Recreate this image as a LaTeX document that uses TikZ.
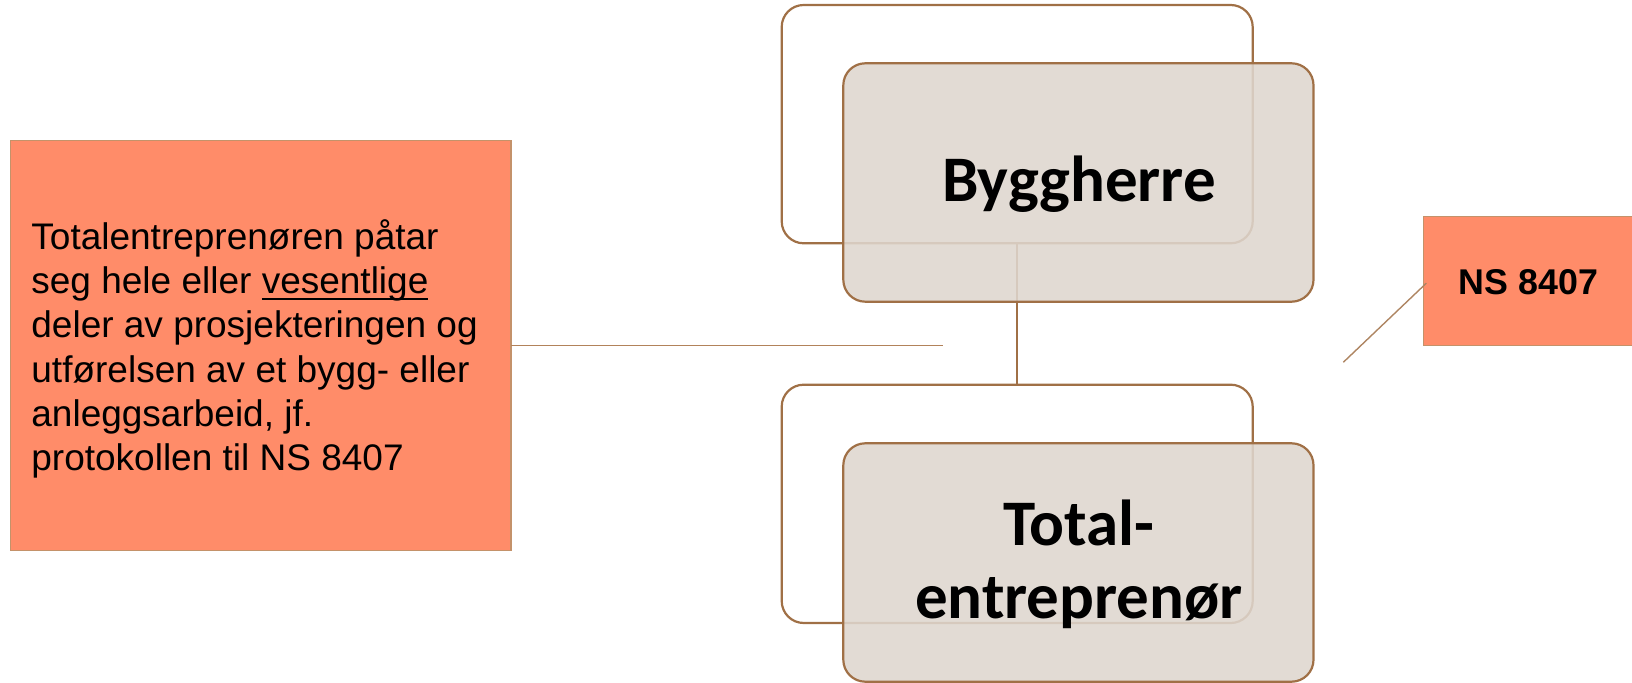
\documentclass[tikz,border=0pt]{standalone}
\usepackage{fontspec}
\setmainfont{Liberation Sans}
\newfontfamily\calfont{Carlito}
\definecolor{bordbrown}{RGB}{160,112,70}
\definecolor{edgetan}{RGB}{196,146,106}
\definecolor{salmonfill}{RGB}{255,140,105}
\definecolor{boxfill}{RGB}{222,214,206}
\definecolor{linkbrown}{RGB}{178,130,90}
\newcommand\myul[1]{\setbox0\hbox{#1}\rlap{\rule[-3.3pt]{\wd0}{1pt}}\box0}
\begin{document}
\begin{tikzpicture}[x=0.5pt,y=-0.5pt,
  backbox/.style={draw=bordbrown, line width=1.1pt, rounded corners=11pt,
    minimum width=235.5pt, minimum height=119.15pt, inner sep=0pt, outer sep=0pt},
  frontbox/.style={draw=bordbrown, line width=1.1pt, rounded corners=11pt,
    fill=boxfill, fill opacity=0.88, text opacity=1,
    minimum width=235.1pt, minimum height=119.2pt, inner sep=0pt, outer sep=0pt},
  notebox/.style={draw=edgetan, line width=0.6pt, fill=salmonfill, inner sep=0pt, outer sep=0pt},
  bigtext/.style={font=\calfont\bfseries\fontsize{32.5pt}{36.65pt}\selectfont, inner sep=0pt},
  linka/.style={draw=linkbrown, line width=0.75pt},
  linkb/.style={draw=bordbrown, line width=1pt}
]
\useasboundingbox (0,0) rectangle (1632,683);
% left note box
\node[notebox, minimum width=250.25pt, minimum height=205pt] (lb) at (260.75,345.5) {};
\node[anchor=north west, inner sep=0pt, align=left,
  font=\fontsize{18.5pt}{22.15pt}\selectfont] (lbtext) at (31,219)
  {Totalentreprenøren påtar\\seg hele eller \myul{vesentlige}\\deler av prosjekteringen og\\utførelsen av et bygg- eller\\anleggsarbeid, jf.\\protokollen til NS 8407};
% right note box
\node[notebox, minimum width=110pt, minimum height=64.5pt] (ns) at (1533.3,281.2) {};
\node[anchor=base, inner sep=0pt, font=\bfseries\fontsize{17.9pt}{21pt}\selectfont] (nstext) at (1528.5,295) {NS 8407};
% back boxes
\node[backbox] (b1) at (1017.2,124.15) {};
\node[backbox] (b2) at (1017.2,503.85) {};
% connectors
\draw[linkb] (b1.south) -- (b2.north);
\coordinate (hend) at (943,345.5);
\draw[linka] (lb.east) -- (hend);
\coordinate (dend) at (1343.3,362.3);
\draw[linka, draw=bordbrown!85!white, line width=0.7pt] (dend) -- ([xshift=1.5pt,yshift=-1pt]ns.west);
% front boxes
\node[frontbox] (f1) at (1078.4,182.5) {};
\node[frontbox] (f2) at (1078.4,562.5) {};
\node[bigtext, anchor=base] (f1text) at (1079,201.7) {Byggherre};
\node[bigtext, anchor=center, align=center] (f2text) at (1079,564) {Total-\\entreprenør};
\end{tikzpicture}
\end{document}
